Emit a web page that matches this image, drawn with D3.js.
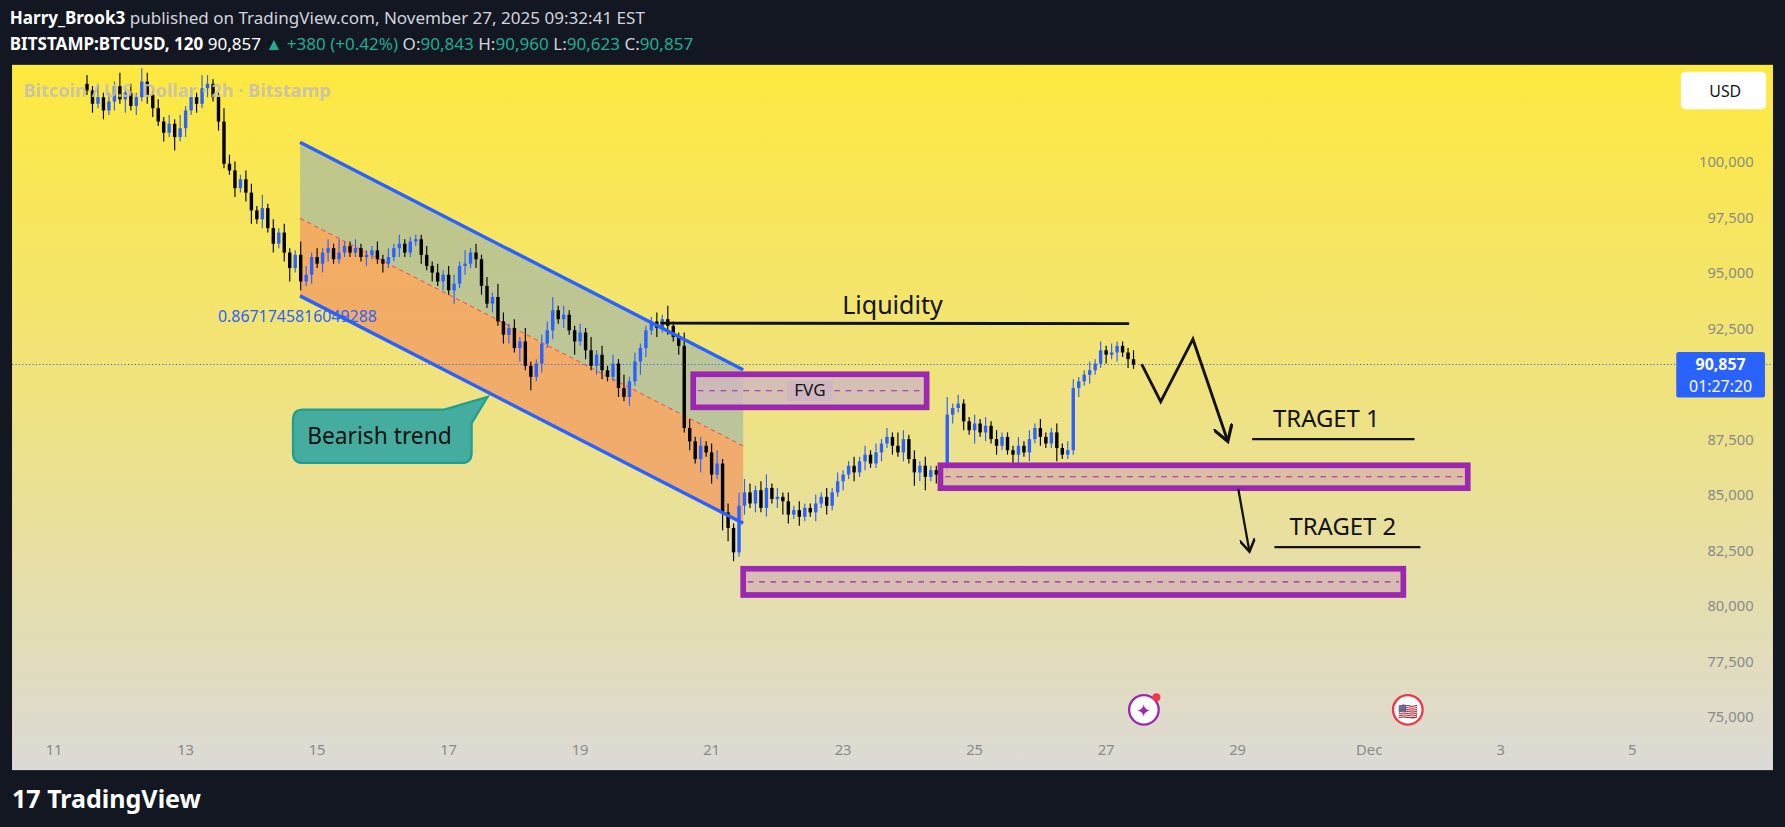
<!DOCTYPE html>
<html><head><meta charset="utf-8">
<script src="https://cdn.jsdelivr.net/npm/d3@7"></script>
<style>body{margin:0;background:#131722;overflow:hidden}svg{display:block;font-family:"Noto Sans",Roboto,sans-serif}</style>
</head><body><svg id="chart" width="1785" height="827" viewBox="0 0 1568 727"></svg>
<script>
// 2h candles from Nov 11 12:00, closes in thousands USD
const startDay = 11.5;
const closes = [
  103.2,102.6,102.9,102.3,102.7,103.4,102.8,103.1,102.5,102.9,103.6,103.0,
  102.4,101.8,101.3,101.7,101.1,101.5,102.3,102.9,102.6,103.3,103.5,102.9,
  101.8,99.9,99.6,98.8,99.2,98.6,97.8,97.4,97.9,97.0,96.3,96.8,
  95.9,95.2,95.8,94.6,94.9,95.7,95.4,95.9,96.1,95.6,95.9,96.2,
  95.9,96.1,95.7,95.8,96.0,95.6,95.4,95.7,96.1,96.3,95.9,96.4,
  96.5,95.8,95.3,95.0,94.6,94.9,94.2,94.5,95.3,95.4,95.9,95.6,
  94.4,93.6,93.9,92.8,92.2,92.5,91.6,91.9,90.8,90.3,90.9,91.8,
  92.4,93.3,92.9,93.1,92.4,91.9,92.3,91.5,90.8,91.3,90.6,90.3,
  90.9,89.8,89.4,90.1,91.0,91.6,92.4,92.8,92.5,92.9,92.6,92.1,
  91.7,88.0,87.4,86.6,87.2,86.9,85.9,86.4,84.2,83.5,82.4,84.5,
  85.1,84.6,85.2,84.4,85.3,84.8,84.9,84.7,84.1,84.3,84.0,84.4,
  84.2,84.6,84.9,84.5,85.1,85.6,85.9,86.3,86.0,86.5,86.8,86.4,
  86.9,87.3,87.6,87.2,86.9,87.5,86.6,86.0,86.3,85.8,86.1,85.9,
  86.2,88.6,88.9,89.1,88.3,87.9,88.2,87.8,88.1,87.5,87.2,87.6,
  87.0,86.8,87.2,86.9,87.5,88.0,87.6,87.3,87.8,87.1,86.8,87.0,
  89.8,90.1,90.4,90.6,90.9,91.5,91.3,91.4,91.7,91.4,91.1,90.857
];
// wick lengths, one digit per candle (x 0.2k)
const upWicks = "213121312132121213121321132212213121211321212131121112121211112121221312121321213112231211213121213121112131132121231213321231212121121212112121212132121211141211212121112121211212211212121112";
const downWicks = "121212131212212131212121211212312121231212122111111211211211121212131212212122131312121213121221121213212121212131214321212121232121121211212121121212132312212121312121122121211311121211212121";

const priceTicks = [75000, 77500, 80000, 82500, 85000, 87500, 90000, 92500, 95000, 97500, 100000];
const dayTicks = [11, 13, 15, 17, 19, 21, 23, 25, 27, 29, 31, 33, 35];
const dayLabels = ["11", "13", "15", "17", "19", "21", "23", "25", "27", "29", "Dec", "3", "5"];
const lastPrice = 90857;

const svg = d3.select("#chart");
const x = d3.scaleLinear().domain([11, 13]).range([47, 162.6]);
const y = d3.scaleLinear().domain([75000, 100000]).range([630, 142]);

//Background and gradient
const defs = svg.append("defs");
const grad = defs.append("linearGradient").attr("id", "bg").attr("x1", 0).attr("y1", 0).attr("x2", 0).attr("y2", 1);
grad.append("stop").attr("offset", "0%").attr("stop-color", "#fee93f");
grad.append("stop").attr("offset", "45%").attr("stop-color", "#f0e37c");
grad.append("stop").attr("offset", "100%").attr("stop-color", "#dcdad6");
defs.append("clipPath").attr("id", "plot").append("rect").attr("x", 10).attr("y", 57).attr("width", 1548).attr("height", 620);
defs.append("marker").attr("id", "arr").attr("viewBox", "0 0 10 10").attr("refX", 8).attr("refY", 5)
  .attr("markerWidth", 7).attr("markerHeight", 7).attr("orient", "auto-start-reverse")
  .append("path").attr("d", "M0,0 L8,5 L0,10").attr("fill", "none").attr("stroke", "#111").attr("stroke-width", 1.6);

svg.append("rect").attr("width", 1568).attr("height", 727).attr("fill", "#131722");
svg.append("rect").attr("x", 10).attr("y", 57).attr("width", 1548).attr("height", 620).attr("fill", "url(#bg)");

//Header
const h1 = svg.append("text").attr("x", 8).attr("y", 21).attr("font-size", 15).attr("fill", "#d1d4dc");
h1.append("tspan").attr("font-weight", "bold").attr("fill", "#fff").text("Harry_Brook3");
h1.append("tspan").text(" published on TradingView.com, November 27, 2025 09:32:41 EST");
const h2 = svg.append("text").attr("x", 8).attr("y", 44).attr("font-size", 15).attr("fill", "#d1d4dc");
h2.append("tspan").attr("font-weight", "bold").attr("fill", "#fff").text("BITSTAMP:BTCUSD, 120 ");
h2.append("tspan").attr("fill", "#fff").text("90,857 ");
h2.append("tspan").attr("fill", "#22ab94").text("▲ +380 (+0.42%) ");
h2.append("tspan").text("O:");
h2.append("tspan").attr("fill", "#22ab94").text("90,843 ");
h2.append("tspan").text("H:");
h2.append("tspan").attr("fill", "#22ab94").text("90,960 ");
h2.append("tspan").text("L:");
h2.append("tspan").attr("fill", "#22ab94").text("90,623 ");
h2.append("tspan").text("C:");
h2.append("tspan").attr("fill", "#22ab94").text("90,857");

const plot = svg.append("g").attr("clip-path", "url(#plot)");

//Channel shading
const chan = {d0: 14.74, d1: 21.48, top: [100870, 90620], mid: [97440, 87190], bot: [93950, 83710]};
plot.append("path").attr("fill", "#9fb6a8").attr("opacity", 0.65)
  .attr("d", `M${x(chan.d0)},${y(chan.top[0])}L${x(chan.d1)},${y(chan.top[1])}L${x(chan.d1)},${y(chan.mid[1])}L${x(chan.d0)},${y(chan.mid[0])}Z`);
plot.append("path").attr("fill", "#f29a63").attr("opacity", 0.75)
  .attr("d", `M${x(chan.d0)},${y(chan.mid[0])}L${x(chan.d1)},${y(chan.mid[1])}L${x(chan.d1)},${y(chan.bot[1])}L${x(chan.d0)},${y(chan.bot[0])}Z`);
plot.append("line").attr("x1", x(chan.d0)).attr("y1", y(chan.mid[0])).attr("x2", x(chan.d1)).attr("y2", y(chan.mid[1]))
  .attr("stroke", "#f05a5a").attr("stroke-dasharray", "4,3").attr("stroke-width", 1);

//Current price dotted line
plot.append("line").attr("x1", 10).attr("x2", 1558).attr("y1", y(lastPrice)).attr("y2", y(lastPrice))
  .attr("stroke", "#2962ff").attr("stroke-dasharray", "1,2").attr("stroke-width", 1);

//Boxes
const boxes = [
  {d0: 20.72, d1: 24.27, hi: 90420, lo: 88930, fill: "#cfb6c0", label: "FVG"},
  {d0: 24.48, d1: 32.50, hi: 86320, lo: 85290, fill: "#d8b7a8"},
  {d0: 21.48, d1: 31.52, hi: 81660, lo: 80480, fill: "#d4b4b4"}
];

//Candles
const candles = closes.map((c, i) => {
  const o = i === 0 ? 103.5 : closes[i - 1];
  return {
    day: startDay + i / 12,
    o: o * 1000, c: c * 1000,
    h: (Math.max(o, c) + (+upWicks[i]) * 0.2) * 1000,
    l: (Math.min(o, c) - (+downWicks[i]) * 0.2) * 1000
  };
});
const cg = plot.append("g").selectAll("g").data(candles).join("g")
  .attr("fill", d => d.c >= d.o ? "#2962ff" : "#000").attr("stroke", d => d.c >= d.o ? "#2962ff" : "#000");
cg.append("line").attr("x1", d => x(d.day)).attr("x2", d => x(d.day)).attr("y1", d => y(d.h)).attr("y2", d => y(d.l)).attr("stroke-width", 1);
cg.append("rect").attr("x", d => x(d.day) - 1.5).attr("width", 3).attr("stroke", "none")
  .attr("y", d => y(Math.max(d.o, d.c))).attr("height", d => Math.max(1, Math.abs(y(d.o) - y(d.c))));

//Channel lines
plot.append("line").attr("x1", x(chan.d0)).attr("y1", y(chan.top[0])).attr("x2", x(chan.d1)).attr("y2", y(chan.top[1]))
  .attr("stroke", "#2962ff").attr("stroke-width", 3);
plot.append("line").attr("x1", x(chan.d0)).attr("y1", y(chan.bot[0])).attr("x2", x(chan.d1)).attr("y2", y(chan.bot[1]))
  .attr("stroke", "#2962ff").attr("stroke-width", 3);
plot.append("text").attr("x", 191).attr("y", 283).attr("font-size", 14).attr("fill", "#2962ff").text("0.8671745816049288");

boxes.forEach(b => {
  plot.append("rect").attr("x", x(b.d0)).attr("y", y(b.hi)).attr("width", x(b.d1) - x(b.d0)).attr("height", y(b.lo) - y(b.hi))
    .attr("fill", b.fill).attr("fill-opacity", 0.8).attr("stroke", "#9c27b0").attr("stroke-width", 5);
  const my = y((b.hi + b.lo) / 2);
  plot.append("line").attr("x1", x(b.d0) + 4).attr("x2", x(b.d1) - 4).attr("y1", my).attr("y2", my)
    .attr("stroke", "#9c27b0").attr("stroke-dasharray", "5,5").attr("stroke-width", 1);
  if (b.label) {
    const cx = (x(b.d0) + x(b.d1)) / 2;
    plot.append("rect").attr("x", cx - 20).attr("y", my - 9).attr("width", 40).attr("height", 18).attr("fill", b.fill);
    plot.append("text").attr("x", cx).attr("y", my + 5).attr("text-anchor", "middle").attr("font-size", 15).attr("fill", "#111").text(b.label);
  }
});

//Liquidity
plot.append("line").attr("x1", x(20.22)).attr("x2", x(27.35)).attr("y1", y(92720)).attr("y2", y(92700)).attr("stroke", "#111").attr("stroke-width", 2.5);
plot.append("text").attr("x", x(23.75)).attr("y", y(93150)).attr("text-anchor", "middle").attr("font-size", 22).attr("fill", "#111").text("Liquidity");

//Projected path
const path1 = [[27.54, 90880], [27.83, 89190], [28.32, 92000], [28.85, 87400]];
plot.append("path").attr("d", d3.line().x(d => x(d[0])).y(d => y(d[1]))(path1))
  .attr("fill", "none").attr("stroke", "#111").attr("stroke-width", 2.5).attr("marker-end", "url(#arr)");
plot.append("path").attr("d", d3.line().x(d => x(d[0])).y(d => y(d[1]))([[29.01, 85250], [29.18, 82430]]))
  .attr("fill", "none").attr("stroke", "#111").attr("stroke-width", 2).attr("marker-end", "url(#arr)");

const targets = [{t: "TRAGET 1", d0: 29.22, d1: 31.69, p: 87500, tx: 30.35}, {t: "TRAGET 2", d0: 29.56, d1: 31.78, p: 82630, tx: 30.6}];
targets.forEach(t => {
  plot.append("line").attr("x1", x(t.d0)).attr("x2", x(t.d1)).attr("y1", y(t.p)).attr("y2", y(t.p)).attr("stroke", "#111").attr("stroke-width", 2);
  plot.append("text").attr("x", x(t.tx)).attr("y", y(t.p) - 11).attr("text-anchor", "middle").attr("font-size", 21).attr("fill", "#111").text(t.t);
});

//Bearish trend callout
plot.append("path").attr("d", "M266,360 H390 L428,349 L414,372 V398 Q414,407 405,407 H266 Q257,407 257,398 V369 Q257,360 266,360 Z")
  .attr("fill", "#45ada0").attr("stroke", "#1f9e92").attr("stroke-width", 2);
plot.append("text").attr("x", 333).attr("y", 390).attr("text-anchor", "middle").attr("font-size", 20).attr("fill", "#111").text("Bearish trend");

//Watermark title
svg.append("text").attr("x", 20).attr("y", 85).attr("font-size", 16).attr("font-weight", "bold").attr("fill", "#c4c0b4").attr("fill-opacity", 0.9)
  .text("Bitcoin / U.S. Dollar · 2h · Bitstamp");

//Price axis
svg.append("g").selectAll("text").data(priceTicks.filter(p => p !== 90000)).join("text")
  .attr("x", 1541).attr("y", d => y(d) + 5).attr("text-anchor", "end").attr("font-size", 13).attr("fill", "#8a8a8a")
  .text(d => d3.format(",")(d));
//Time axis
svg.append("g").selectAll("text").data(dayTicks).join("text")
  .attr("x", d => x(d)).attr("y", 664).attr("text-anchor", "middle").attr("font-size", 13).attr("fill", "#8a8a8a")
  .text((d, i) => dayLabels[i]);

//Last price tag
svg.append("rect").attr("x", 1473).attr("y", y(lastPrice) - 11).attr("width", 78).attr("height", 40).attr("rx", 2).attr("fill", "#2962ff");
svg.append("text").attr("x", 1512).attr("y", y(lastPrice) + 5).attr("text-anchor", "middle").attr("font-size", 14).attr("font-weight", "bold").attr("fill", "#fff").text("90,857");
svg.append("text").attr("x", 1512).attr("y", y(lastPrice) + 24).attr("text-anchor", "middle").attr("font-size", 14).attr("fill", "#fff").text("01:27:20");

//USD button
svg.append("rect").attr("x", 1477).attr("y", 63).attr("width", 75).attr("height", 33).attr("rx", 4).attr("fill", "#fff");
svg.append("text").attr("x", 1502).attr("y", 85).attr("font-size", 14).attr("fill", "#131722").text("USD");

//Event icons
svg.append("circle").attr("cx", 1005).attr("cy", 624).attr("r", 13).attr("fill", "#fff").attr("stroke", "#9c27b0").attr("stroke-width", 2);
svg.append("text").attr("x", 1005).attr("y", 630).attr("text-anchor", "middle").attr("font-size", 16).attr("fill", "#9c27b0").text("✦");
svg.append("circle").attr("cx", 1016).attr("cy", 613).attr("r", 3.5).attr("fill", "#f23645");
svg.append("circle").attr("cx", 1237).attr("cy", 624).attr("r", 13).attr("fill", "#fff").attr("stroke", "#f23645").attr("stroke-width", 2);
svg.append("text").attr("x", 1237).attr("y", 630).attr("text-anchor", "middle").attr("font-size", 14).attr("fill", "#f23645").text("🇺🇸");

//Footer logo
svg.append("text").attr("x", 10).attr("y", 710).attr("font-size", 22).attr("font-weight", "bold").attr("fill", "#fff").text("17 TradingView");
</script></body></html>
